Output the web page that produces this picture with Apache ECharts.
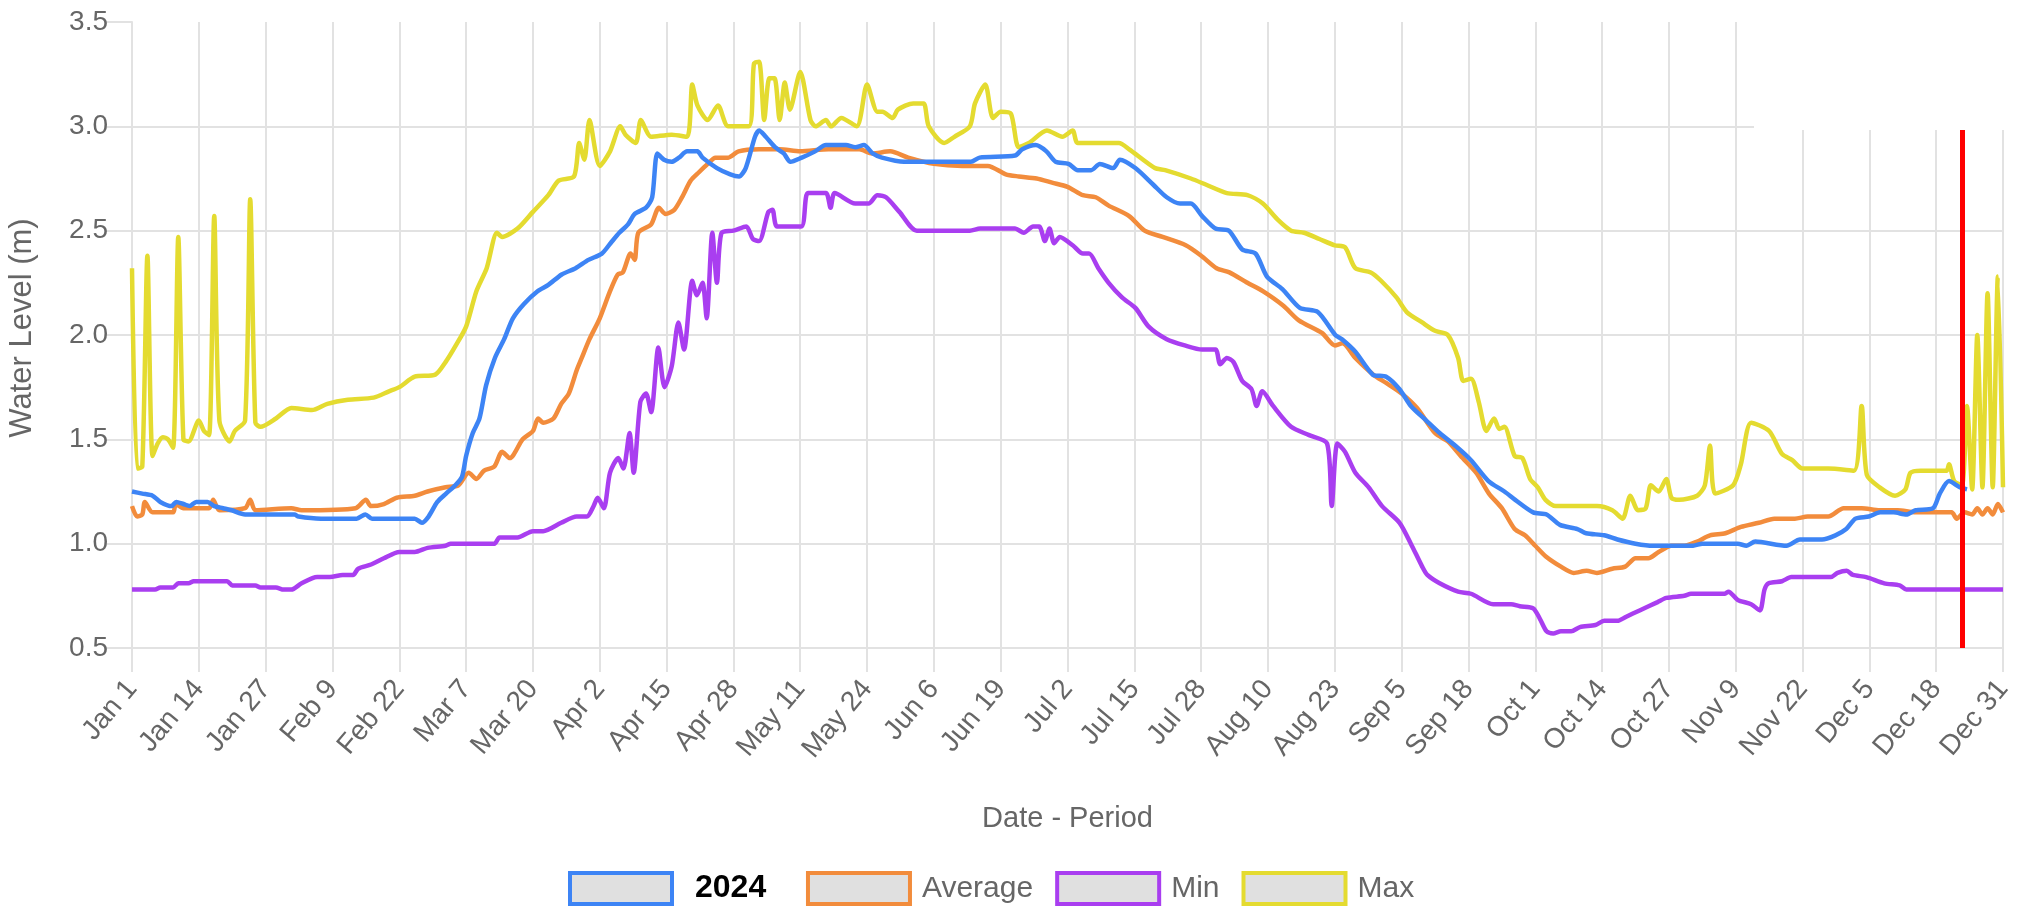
<!DOCTYPE html>
<html>

<head>
    <meta charset="utf-8">
    <title>Water Level</title>
    <script src="https://cdn.jsdelivr.net/npm/echarts@6/dist/echarts.min.js"></script>
    <style>
        html,
        body {
            margin: 0;
            padding: 0;
            background: #fff;
        }
        
        #main {
            width: 2026px;
            height: 911px;
        }
    </style>
</head>

<body>
    <div id="main"></div>
</body>
<script type="text/javascript">
    // tick labels, one every 13 days (day 0 = Jan 1)
    var tickLabels = ['Jan 1', 'Jan 14', 'Jan 27', 'Feb 9', 'Feb 22', 'Mar 7', 'Mar 20', 'Apr 2', 'Apr 15', 'Apr 28',
        'May 11', 'May 24', 'Jun 6', 'Jun 19', 'Jul 2', 'Jul 15', 'Jul 28', 'Aug 10', 'Aug 23', 'Sep 5', 'Sep 18',
        'Oct 1', 'Oct 14', 'Oct 27', 'Nov 9', 'Nov 22', 'Dec 5', 'Dec 18', 'Dec 31'
    ];
    var seriesNames = ['2024', 'Average', 'Min', 'Max'];
    var todayIndex = 356;

    // [day, level in m]
    var level2024 = [[0,1.25],[2,1.24],[4,1.23],[5.5,1.20],[7.7,1.18],[8.6,1.20],[10,1.19],[11.2,1.18],[12.5,1.20],[14.7,1.20],[16,1.18],[17.7,1.17],[19.4,1.16],[22,1.14],[31.6,1.14],[32.4,1.13],[36.8,1.12],[43.7,1.12],[45.4,1.14],[46.7,1.12],[55,1.12],[56.4,1.10],[57.7,1.13],[59.4,1.20],[61.1,1.24],[62.9,1.28],[64.2,1.32],[65,1.42],[66.3,1.53],[67.6,1.60],[68.9,1.76],[70.6,1.89],[72.4,1.98],[74.1,2.08],[76.3,2.15],[78.9,2.21],[81,2.24],[83.6,2.29],[86.3,2.32],[88.8,2.36],[91.4,2.39],[93.1,2.44],[94.8,2.49],[96.5,2.53],[97.8,2.58],[100,2.61],[101.2,2.66],[102.2,2.87],[103.5,2.84],[105,2.83],[106.4,2.85],[108,2.88],[110,2.88],[111,2.85],[113.8,2.80],[116.4,2.77],[118.1,2.76],[119.4,2.80],[121.2,2.95],[122,2.98],[123.3,2.95],[125.1,2.90],[126.8,2.87],[128.1,2.83],[130.3,2.85],[132.9,2.88],[135,2.91],[138.9,2.91],[140.7,2.90],[142.4,2.91],[144.1,2.87],[145.9,2.85],[150.2,2.83],[163.2,2.83],[164.9,2.85],[171.8,2.86],[173.2,2.89],[175.8,2.91],[177.9,2.88],[179.7,2.83],[182.2,2.82],[184,2.79],[186.6,2.79],[188.3,2.82],[190.9,2.80],[192.2,2.84],[195.2,2.80],[198.7,2.72],[201.3,2.66],[203.9,2.63],[206,2.63],[208.2,2.57],[210.8,2.51],[213.4,2.50],[216,2.41],[218.6,2.39],[220.8,2.28],[223.8,2.22],[227.2,2.13],[230.7,2.11],[234.1,2.00],[235.4,1.98],[238,1.92],[241.4,1.81],[244,1.80],[246.6,1.74],[248.8,1.66],[251.8,1.59],[254.4,1.53],[257.9,1.46],[260.5,1.40],[263.9,1.30],[267,1.25],[269.1,1.21],[272.6,1.15],[275.2,1.14],[277.8,1.09],[281.2,1.07],[282.9,1.05],[286.4,1.04],[289,1.02],[292.5,1.00],[295.9,0.99],[298.5,0.99],[303.7,0.99],[305.5,1.00],[308.9,1.00],[312.4,1.00],[314.1,0.99],[315.8,1.01],[321.9,0.99],[324.5,1.02],[328.8,1.02],[331.4,1.04],[333.5,1.07],[335.3,1.12],[337.9,1.13],[340.1,1.15],[342.7,1.15],[345.2,1.14],[347,1.16],[350.4,1.17],[351.7,1.24],[353.5,1.30],[355.6,1.27],[357,1.26]];

    var levelAverage = [[0,1.18],[1,1.13],[2,1.14],[2.5,1.20],[4,1.15],[8,1.15],[8.5,1.19],[10,1.17],[15,1.17],[15.8,1.21],[17,1.16],[22,1.17],[23,1.21],[24,1.16],[31,1.17],[33,1.16],[43.5,1.17],[45.5,1.21],[46.5,1.18],[49,1.19],[51.5,1.22],[55,1.23],[57.5,1.25],[61,1.27],[63.5,1.28],[65.5,1.34],[67,1.31],[68.5,1.35],[70.5,1.37],[72,1.44],[73.5,1.41],[76,1.50],[78,1.54],[79,1.60],[80,1.58],[82,1.60],[83.5,1.67],[85,1.72],[86.5,1.83],[87.5,1.89],[89,1.98],[91,2.08],[93,2.21],[94.5,2.29],[95.5,2.30],[97,2.39],[97.8,2.36],[98.5,2.49],[101,2.53],[102.5,2.61],[103.8,2.58],[105.5,2.60],[107,2.66],[108.7,2.74],[110.3,2.78],[112,2.82],[113.5,2.85],[116,2.85],[118,2.88],[122,2.89],[126,2.89],[130,2.88],[135.5,2.89],[141.5,2.89],[144,2.87],[147.5,2.88],[151,2.85],[156,2.82],[161.5,2.81],[166.5,2.81],[170,2.77],[172.5,2.76],[176,2.75],[179,2.73],[182,2.71],[185,2.67],[187.5,2.66],[190,2.62],[194,2.57],[197,2.50],[200.5,2.47],[205,2.43],[208,2.38],[211,2.32],[213.5,2.30],[217,2.25],[220,2.21],[224,2.14],[227,2.07],[231.5,2.01],[234,1.95],[235.5,1.96],[238,1.89],[241.5,1.81],[244,1.77],[247,1.72],[250,1.65],[253.5,1.53],[256,1.49],[258.5,1.42],[261.5,1.34],[264,1.24],[266.5,1.17],[269,1.07],[271,1.04],[273,0.99],[275,0.94],[278,0.89],[280.5,0.86],[283,0.87],[285,0.86],[288,0.88],[290.5,0.89],[292.5,0.93],[295,0.93],[297,0.96],[299.5,0.99],[302,0.99],[304.5,1.01],[307,1.04],[310,1.05],[313,1.08],[316.5,1.10],[319.5,1.12],[323.5,1.12],[326,1.13],[330,1.13],[333,1.17],[336.5,1.17],[340,1.16],[343.5,1.16],[347,1.15],[354,1.15],[355,1.12],[356.5,1.15],[358,1.14],[359,1.17],[360,1.14],[361,1.17],[362,1.14],[363,1.19],[364,1.15]];

    var levelMin = [[0,0.78],[4.5,0.78],[5.5,0.79],[8,0.79],[9,0.81],[11,0.81],[12,0.82],[18.5,0.82],[19.5,0.80],[24,0.80],[25,0.79],[28,0.79],[29.5,0.78],[31,0.78],[33,0.81],[36,0.84],[38.5,0.84],[41,0.85],[43,0.85],[44,0.88],[46.5,0.90],[49,0.93],[52,0.96],[55,0.96],[57.5,0.98],[61,0.99],[62,1.00],[70.5,1.00],[71.5,1.03],[75,1.03],[78,1.06],[80,1.06],[83.5,1.10],[86.5,1.13],[88.5,1.13],[89.8,1.18],[90.6,1.22],[91.8,1.17],[93,1.34],[94.6,1.41],[95.6,1.36],[96.8,1.53],[97.6,1.34],[98.9,1.68],[100,1.72],[101,1.63],[102.4,1.94],[103.6,1.75],[105,1.85],[106.3,2.06],[107.4,1.93],[109,2.26],[109.9,2.19],[111,2.25],[111.8,2.08],[112.9,2.49],[113.8,2.25],[114.7,2.49],[117,2.50],[119.5,2.52],[120.8,2.46],[122,2.45],[123.8,2.59],[124.6,2.60],[125.5,2.52],[130.2,2.52],[131.5,2.68],[135,2.68],[135.9,2.61],[136.7,2.68],[140.7,2.63],[143.3,2.63],[145,2.67],[146.7,2.66],[149.3,2.59],[152.7,2.50],[163,2.50],[165,2.51],[171.8,2.51],[173.5,2.49],[175.3,2.52],[176.5,2.52],[177.6,2.45],[178.5,2.51],[179.4,2.44],[180.5,2.47],[183,2.43],[185,2.39],[186.2,2.39],[188,2.32],[190,2.25],[192.6,2.18],[195.2,2.13],[197.8,2.04],[201.3,1.98],[204.8,1.95],[208.2,1.93],[210.8,1.93],[211.7,1.86],[213,1.89],[214.3,1.87],[216,1.78],[217.8,1.74],[218.8,1.66],[219.9,1.73],[222,1.66],[225.5,1.56],[229,1.52],[232.5,1.48],[233.4,1.18],[234.5,1.48],[236,1.44],[238,1.34],[240.6,1.27],[243.2,1.18],[246.6,1.10],[248.8,1.00],[251,0.89],[252,0.85],[254.4,0.81],[258,0.77],[260.5,0.76],[264.8,0.71],[268.3,0.71],[270,0.70],[272.6,0.69],[273.9,0.64],[275.2,0.58],[276.5,0.57],[278,0.58],[280,0.58],[281.7,0.60],[284.7,0.61],[286.4,0.63],[289,0.63],[290.7,0.65],[293.3,0.68],[296.8,0.72],[298.5,0.74],[302,0.75],[303.3,0.76],[309.8,0.76],[310.6,0.77],[312.4,0.73],[315,0.71],[316.7,0.68],[317.6,0.78],[318.4,0.81],[321,0.82],[322.8,0.84],[330.5,0.84],[331.8,0.86],[333.6,0.87],[334.8,0.85],[337.4,0.84],[340.9,0.81],[343.9,0.80],[345.2,0.78],[364,0.78]];

    var levelMax = [[0,2.32],[1,1.36],[2,1.37],[3,2.38],[4,1.42],[5,1.48],[6,1.51],[7,1.50],[8,1.46],[9,2.47],[10,1.50],[11,1.49],[13,1.59],[14,1.54],[15,1.52],[16,2.57],[17,1.59],[19,1.49],[20,1.54],[22,1.59],[23,2.65],[24,1.58],[25,1.56],[28,1.60],[31,1.65],[35,1.64],[38,1.67],[42,1.69],[47,1.70],[50,1.73],[52,1.75],[55,1.80],[59,1.81],[61,1.87],[63,1.95],[65,2.04],[67,2.21],[69,2.32],[71,2.49],[72,2.47],[75,2.51],[78,2.59],[81,2.67],[83,2.74],[86,2.76],[87,2.92],[88,2.84],[89,3.03],[91,2.81],[93,2.88],[95,3.00],[96,2.96],[98,2.92],[99,3.03],[101,2.95],[105,2.96],[108,2.95],[109,3.20],[110,3.10],[112,3.03],[114,3.10],[116,3.00],[120,3.00],[121,3.30],[122,3.31],[123,3.03],[124,3.23],[125,3.23],[126,3.03],[127,3.21],[128,3.08],[130,3.26],[132,3.03],[133,3.00],[135,3.03],[136,3.00],[138,3.04],[141,3.00],[143,3.20],[145,3.07],[146,3.07],[148,3.04],[149,3.08],[152,3.11],[154,3.11],[155,3.00],[158,2.92],[160,2.95],[163,3.00],[164,3.11],[166,3.20],[167.5,3.04],[169,3.07],[171,3.06],[172.5,2.90],[174.5,2.92],[178,2.98],[181,2.95],[183,2.98],[184,2.92],[192,2.92],[194,2.89],[199,2.80],[201,2.79],[206,2.75],[209,2.72],[213,2.68],[217,2.67],[220,2.63],[223,2.55],[225.5,2.50],[228,2.49],[231,2.46],[234,2.43],[236,2.42],[238,2.32],[241,2.30],[243,2.26],[246,2.18],[248,2.11],[251,2.06],[253.5,2.02],[256,2.00],[258,1.89],[259,1.78],[260.5,1.79],[262,1.68],[263.5,1.54],[265,1.60],[266,1.55],[267,1.56],[269,1.42],[270.5,1.41],[272,1.31],[273.5,1.27],[275,1.21],[277,1.18],[285,1.18],[288,1.16],[290,1.12],[291.5,1.23],[293,1.16],[294.5,1.17],[295.5,1.28],[297,1.25],[298.5,1.31],[299.5,1.22],[301,1.21],[304.5,1.23],[306,1.28],[307,1.47],[308,1.24],[311.5,1.28],[313,1.38],[315,1.58],[318.5,1.54],[321,1.43],[323,1.40],[325,1.36],[330,1.36],[335,1.35],[336.5,1.66],[337.5,1.33],[340,1.27],[343,1.23],[345,1.26],[346,1.34],[348,1.35],[353,1.35],[353.5,1.38],[354.5,1.30],[356,1.28],[357,1.66],[358,1.26],[359,2.00],[360,1.27],[361,2.20],[362,1.27],[363,2.28],[364,1.27]];

    var colors = {
        '2024': '#3d84f5',
        'Average': '#f28c3c',
        'Min': '#a93ef0',
        'Max': '#e4db30'
    };
    var fontFamily = 'Liberation Sans, Arial, sans-serif';
    var gridColor = '#e2e2e2';

    function makeLine(name, data) {
        return {
            name: name,
            type: 'line',
            data: data,
            showSymbol: false,
            smooth: 0.25,
            color: colors[name],
            lineStyle: {
                width: 4.5,
                color: colors[name]
            }
        };
    }

    var legendItems = seriesNames.map(function(name) {
        var item = {
            name: name,
            icon: 'rect',
            itemStyle: {
                color: '#e0e0e0',
                borderColor: colors[name],
                borderWidth: 4
            }
        };
        if (name === '2024') {
            item.textStyle = {
                color: '#000',
                fontWeight: 'bold',
                fontSize: 32,
                padding: [0, 0, 0, 18]
            };
        }
        return item;
    });

    var mainSeries = makeLine('2024', level2024);
    mainSeries.markLine = {
        silent: true,
        symbol: 'none',
        label: {
            show: false
        },
        lineStyle: {
            color: '#ff0000',
            width: 5,
            type: 'solid'
        },
        data: [{
            xAxis: todayIndex
        }]
    };

    var chart = echarts.init(document.getElementById('main'));
    chart.setOption({
        backgroundColor: '#fff',
        animation: false,
        textStyle: {
            fontFamily: fontFamily
        },
        grid: {
            left: 132,
            right: 23,
            top: 22,
            bottom: 263,
            outerBoundsMode: 'none'
        },
        legend: {
            data: legendItems,
            left: 563,
            top: 866,
            itemWidth: 102,
            itemHeight: 31,
            itemGap: 22,
            formatter: function(name) {
                // the source leaves extra room after the bold year
                return name === '2024' ? name + '  ' : name;
            },
            textStyle: {
                fontSize: 30,
                color: '#666',
                fontFamily: fontFamily,
                padding: [0, 0, 0, 7]
            }
        },
        xAxis: {
            type: 'value',
            min: 0,
            max: 364,
            interval: 13,
            name: 'Date - Period',
            nameLocation: 'middle',
            nameGap: 156,
            nameTextStyle: {
                fontSize: 29,
                color: '#666'
            },
            axisLine: {
                lineStyle: {
                    color: gridColor,
                    width: 2
                }
            },
            axisTick: {
                show: true,
                length: 24,
                lineStyle: {
                    color: gridColor,
                    width: 2
                }
            },
            axisLabel: {
                rotate: 50,
                margin: 36,
                fontSize: 28,
                color: '#666',
                formatter: function(v) {
                    return tickLabels[Math.round(v / 13)];
                }
            },
            splitLine: {
                show: true,
                lineStyle: {
                    color: gridColor,
                    width: 2
                }
            }
        },
        yAxis: {
            type: 'value',
            min: 0.5,
            max: 3.5,
            interval: 0.5,
            name: 'Water Level (m)',
            nameLocation: 'middle',
            nameGap: 94,
            nameTextStyle: {
                fontSize: 31,
                color: '#666',
                padding: [0, 0, 0, 14]
            },
            axisLine: {
                show: true,
                lineStyle: {
                    color: gridColor,
                    width: 2
                }
            },
            axisTick: {
                show: true,
                length: 26,
                lineStyle: {
                    color: gridColor,
                    width: 2
                }
            },
            axisLabel: {
                margin: 0,
                padding: [0, 24, 0, 0],
                fontSize: 28,
                color: '#666',
                formatter: function(v) {
                    return v.toFixed(1);
                }
            },
            splitLine: {
                show: true,
                showMaxLine: false,
                lineStyle: {
                    color: gridColor,
                    width: 2
                }
            }
        },
        // white patch over the top right corner, as in the source
        graphic: [{
            type: 'rect',
            z: 100,
            shape: {
                x: 1754,
                y: 0,
                width: 272,
                height: 130
            },
            style: {
                fill: '#fff'
            }
        }],
        series: [
            makeLine('Max', levelMax),
            makeLine('Min', levelMin),
            makeLine('Average', levelAverage),
            mainSeries
        ]
    });
</script>

</html>
